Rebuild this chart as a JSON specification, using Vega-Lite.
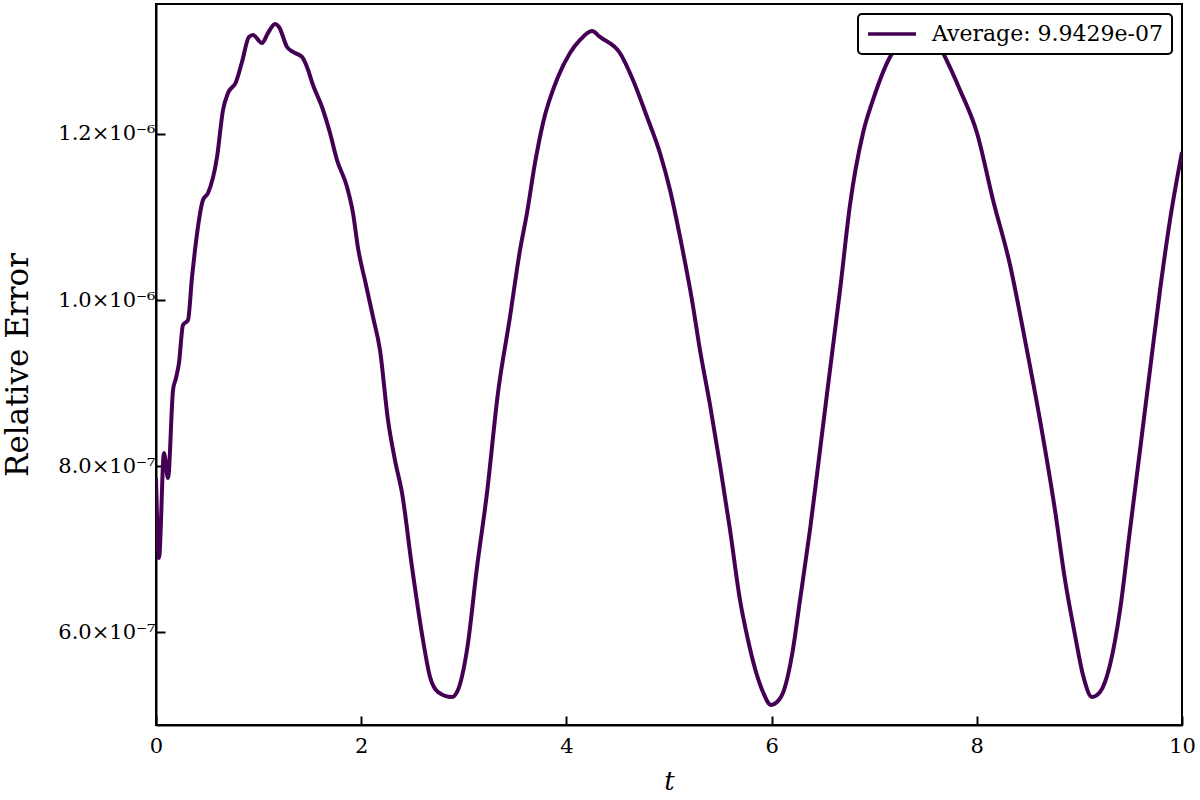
{
  "$schema": "https://vega.github.io/schema/vega-lite/v6.json",
  "width": 1026,
  "height": 721,
  "autosize": {"type": "none"},
  "padding": {"left": 156, "top": 4, "right": 18, "bottom": 75},
  "background": "white",
  "config": {
    "view": {"stroke": "black", "strokeWidth": 2},
    "font": "DejaVu Serif"
  },
  "data": {
    "values": [
      {"t": 0.000, "err": 7.855e-7, "series": "Average: 9.9429e-07"},
      {"t": 0.029, "err": 6.892e-7, "series": "Average: 9.9429e-07"},
      {"t": 0.078, "err": 8.157e-7, "series": "Average: 9.9429e-07"},
      {"t": 0.117, "err": 7.855e-7, "series": "Average: 9.9429e-07"},
      {"t": 0.166, "err": 8.916e-7, "series": "Average: 9.9429e-07"},
      {"t": 0.195, "err": 9.060e-7, "series": "Average: 9.9429e-07"},
      {"t": 0.224, "err": 9.241e-7, "series": "Average: 9.9429e-07"},
      {"t": 0.263, "err": 9.699e-7, "series": "Average: 9.9429e-07"},
      {"t": 0.312, "err": 9.759e-7, "series": "Average: 9.9429e-07"},
      {"t": 0.351, "err": 1.0277e-6, "series": "Average: 9.9429e-07"},
      {"t": 0.380, "err": 1.0602e-6, "series": "Average: 9.9429e-07"},
      {"t": 0.458, "err": 1.1205e-6, "series": "Average: 9.9429e-07"},
      {"t": 0.507, "err": 1.1289e-6, "series": "Average: 9.9429e-07"},
      {"t": 0.595, "err": 1.1723e-6, "series": "Average: 9.9429e-07"},
      {"t": 0.653, "err": 1.2289e-6, "series": "Average: 9.9429e-07"},
      {"t": 0.702, "err": 1.2494e-6, "series": "Average: 9.9429e-07"},
      {"t": 0.780, "err": 1.2627e-6, "series": "Average: 9.9429e-07"},
      {"t": 0.838, "err": 1.2867e-6, "series": "Average: 9.9429e-07"},
      {"t": 0.906, "err": 1.3169e-6, "series": "Average: 9.9429e-07"},
      {"t": 0.945, "err": 1.3193e-6, "series": "Average: 9.9429e-07"},
      {"t": 1.033, "err": 1.3096e-6, "series": "Average: 9.9429e-07"},
      {"t": 1.092, "err": 1.3217e-6, "series": "Average: 9.9429e-07"},
      {"t": 1.160, "err": 1.3325e-6, "series": "Average: 9.9429e-07"},
      {"t": 1.199, "err": 1.3289e-6, "series": "Average: 9.9429e-07"},
      {"t": 1.277, "err": 1.3048e-6, "series": "Average: 9.9429e-07"},
      {"t": 1.335, "err": 1.2988e-6, "series": "Average: 9.9429e-07"},
      {"t": 1.423, "err": 1.2928e-6, "series": "Average: 9.9429e-07"},
      {"t": 1.472, "err": 1.2807e-6, "series": "Average: 9.9429e-07"},
      {"t": 1.530, "err": 1.2590e-6, "series": "Average: 9.9429e-07"},
      {"t": 1.618, "err": 1.2325e-6, "series": "Average: 9.9429e-07"},
      {"t": 1.696, "err": 1.2012e-6, "series": "Average: 9.9429e-07"},
      {"t": 1.764, "err": 1.1687e-6, "series": "Average: 9.9429e-07"},
      {"t": 1.862, "err": 1.1361e-6, "series": "Average: 9.9429e-07"},
      {"t": 1.920, "err": 1.1048e-6, "series": "Average: 9.9429e-07"},
      {"t": 1.969, "err": 1.0627e-6, "series": "Average: 9.9429e-07"},
      {"t": 2.047, "err": 1.0181e-6, "series": "Average: 9.9429e-07"},
      {"t": 2.115, "err": 9.795e-7, "series": "Average: 9.9429e-07"},
      {"t": 2.183, "err": 9.398e-7, "series": "Average: 9.9429e-07"},
      {"t": 2.261, "err": 8.554e-7, "series": "Average: 9.9429e-07"},
      {"t": 2.329, "err": 8.072e-7, "series": "Average: 9.9429e-07"},
      {"t": 2.398, "err": 7.675e-7, "series": "Average: 9.9429e-07"},
      {"t": 2.495, "err": 6.783e-7, "series": "Average: 9.9429e-07"},
      {"t": 2.602, "err": 5.904e-7, "series": "Average: 9.9429e-07"},
      {"t": 2.671, "err": 5.458e-7, "series": "Average: 9.9429e-07"},
      {"t": 2.749, "err": 5.277e-7, "series": "Average: 9.9429e-07"},
      {"t": 2.885, "err": 5.217e-7, "series": "Average: 9.9429e-07"},
      {"t": 2.943, "err": 5.301e-7, "series": "Average: 9.9429e-07"},
      {"t": 3.031, "err": 5.783e-7, "series": "Average: 9.9429e-07"},
      {"t": 3.129, "err": 6.783e-7, "series": "Average: 9.9429e-07"},
      {"t": 3.226, "err": 7.675e-7, "series": "Average: 9.9429e-07"},
      {"t": 3.333, "err": 8.880e-7, "series": "Average: 9.9429e-07"},
      {"t": 3.450, "err": 9.795e-7, "series": "Average: 9.9429e-07"},
      {"t": 3.548, "err": 1.0602e-6, "series": "Average: 9.9429e-07"},
      {"t": 3.616, "err": 1.1048e-6, "series": "Average: 9.9429e-07"},
      {"t": 3.694, "err": 1.1651e-6, "series": "Average: 9.9429e-07"},
      {"t": 3.772, "err": 1.2133e-6, "series": "Average: 9.9429e-07"},
      {"t": 3.918, "err": 1.2687e-6, "series": "Average: 9.9429e-07"},
      {"t": 4.035, "err": 1.2976e-6, "series": "Average: 9.9429e-07"},
      {"t": 4.133, "err": 1.3133e-6, "series": "Average: 9.9429e-07"},
      {"t": 4.250, "err": 1.3241e-6, "series": "Average: 9.9429e-07"},
      {"t": 4.327, "err": 1.3169e-6, "series": "Average: 9.9429e-07"},
      {"t": 4.522, "err": 1.2976e-6, "series": "Average: 9.9429e-07"},
      {"t": 4.649, "err": 1.2651e-6, "series": "Average: 9.9429e-07"},
      {"t": 4.786, "err": 1.2205e-6, "series": "Average: 9.9429e-07"},
      {"t": 4.912, "err": 1.1771e-6, "series": "Average: 9.9429e-07"},
      {"t": 5.010, "err": 1.1325e-6, "series": "Average: 9.9429e-07"},
      {"t": 5.127, "err": 1.0639e-6, "series": "Average: 9.9429e-07"},
      {"t": 5.224, "err": 1.0000e-6, "series": "Average: 9.9429e-07"},
      {"t": 5.302, "err": 9.398e-7, "series": "Average: 9.9429e-07"},
      {"t": 5.400, "err": 8.735e-7, "series": "Average: 9.9429e-07"},
      {"t": 5.497, "err": 8.012e-7, "series": "Average: 9.9429e-07"},
      {"t": 5.595, "err": 7.229e-7, "series": "Average: 9.9429e-07"},
      {"t": 5.692, "err": 6.386e-7, "series": "Average: 9.9429e-07"},
      {"t": 5.770, "err": 5.904e-7, "series": "Average: 9.9429e-07"},
      {"t": 5.848, "err": 5.518e-7, "series": "Average: 9.9429e-07"},
      {"t": 5.916, "err": 5.277e-7, "series": "Average: 9.9429e-07"},
      {"t": 5.994, "err": 5.121e-7, "series": "Average: 9.9429e-07"},
      {"t": 6.053, "err": 5.157e-7, "series": "Average: 9.9429e-07"},
      {"t": 6.121, "err": 5.301e-7, "series": "Average: 9.9429e-07"},
      {"t": 6.199, "err": 5.723e-7, "series": "Average: 9.9429e-07"},
      {"t": 6.277, "err": 6.386e-7, "series": "Average: 9.9429e-07"},
      {"t": 6.374, "err": 7.229e-7, "series": "Average: 9.9429e-07"},
      {"t": 6.472, "err": 8.193e-7, "series": "Average: 9.9429e-07"},
      {"t": 6.569, "err": 9.157e-7, "series": "Average: 9.9429e-07"},
      {"t": 6.667, "err": 1.0120e-6, "series": "Average: 9.9429e-07"},
      {"t": 6.764, "err": 1.1145e-6, "series": "Average: 9.9429e-07"},
      {"t": 6.891, "err": 1.2012e-6, "series": "Average: 9.9429e-07"},
      {"t": 6.988, "err": 1.2410e-6, "series": "Average: 9.9429e-07"},
      {"t": 7.154, "err": 1.2928e-6, "series": "Average: 9.9429e-07"},
      {"t": 7.300, "err": 1.3157e-6, "series": "Average: 9.9429e-07"},
      {"t": 7.446, "err": 1.3253e-6, "series": "Average: 9.9429e-07"},
      {"t": 7.593, "err": 1.3157e-6, "series": "Average: 9.9429e-07"},
      {"t": 7.690, "err": 1.2928e-6, "series": "Average: 9.9429e-07"},
      {"t": 7.836, "err": 1.2530e-6, "series": "Average: 9.9429e-07"},
      {"t": 8.002, "err": 1.2012e-6, "series": "Average: 9.9429e-07"},
      {"t": 8.158, "err": 1.1205e-6, "series": "Average: 9.9429e-07"},
      {"t": 8.324, "err": 1.0422e-6, "series": "Average: 9.9429e-07"},
      {"t": 8.470, "err": 9.518e-7, "series": "Average: 9.9429e-07"},
      {"t": 8.616, "err": 8.554e-7, "series": "Average: 9.9429e-07"},
      {"t": 8.762, "err": 7.470e-7, "series": "Average: 9.9429e-07"},
      {"t": 8.860, "err": 6.627e-7, "series": "Average: 9.9429e-07"},
      {"t": 8.957, "err": 5.964e-7, "series": "Average: 9.9429e-07"},
      {"t": 9.035, "err": 5.482e-7, "series": "Average: 9.9429e-07"},
      {"t": 9.123, "err": 5.217e-7, "series": "Average: 9.9429e-07"},
      {"t": 9.201, "err": 5.277e-7, "series": "Average: 9.9429e-07"},
      {"t": 9.298, "err": 5.603e-7, "series": "Average: 9.9429e-07"},
      {"t": 9.396, "err": 6.265e-7, "series": "Average: 9.9429e-07"},
      {"t": 9.493, "err": 7.229e-7, "series": "Average: 9.9429e-07"},
      {"t": 9.591, "err": 8.193e-7, "series": "Average: 9.9429e-07"},
      {"t": 9.688, "err": 9.157e-7, "series": "Average: 9.9429e-07"},
      {"t": 9.786, "err": 1.0120e-6, "series": "Average: 9.9429e-07"},
      {"t": 9.883, "err": 1.0964e-6, "series": "Average: 9.9429e-07"},
      {"t": 10.000, "err": 1.1783e-6, "series": "Average: 9.9429e-07"}
    ]
  },
  "mark": {"type": "line", "strokeWidth": 4, "interpolate": "monotone", "clip": true},
  "encoding": {
    "x": {
      "field": "t",
      "type": "quantitative",
      "scale": {"domain": [0, 10], "nice": false, "zero": false},
      "axis": {
        "title": "t",
        "titleFont": "DejaVu Serif",
        "titleFontStyle": "italic",
        "titleFontWeight": "normal",
        "titleFontSize": 26,
        "titleColor": "black",
        "titlePadding": 12,
        "values": [0, 2, 4, 6, 8, 10],
        "format": "d",
        "labelFont": "DejaVu Serif",
        "labelFontSize": 21,
        "labelColor": "black",
        "labelPadding": 19,
        "labelFlush": false,
        "tickSize": -9,
        "tickWidth": 2,
        "tickColor": "black",
        "domainColor": "black",
        "domainWidth": 2,
        "grid": false
      }
    },
    "y": {
      "field": "err",
      "type": "quantitative",
      "scale": {"domain": [4.88e-7, 1.3566e-6], "nice": false, "zero": false},
      "axis": {
        "title": "Relative Error",
        "titleFont": "DejaVu Serif",
        "titleFontWeight": "normal",
        "titleFontSize": 31,
        "titleColor": "black",
        "titlePadding": 23,
        "values": [6e-7, 8e-7, 1e-6, 1.2e-6],
        "labelExpr": "datum.value > 9.9e-7 ? format(datum.value * 1e6, '.1f') + '×10⁻⁶' : format(datum.value * 1e7, '.1f') + '×10⁻⁷'",
        "labelFont": "DejaVu Serif",
        "labelFontSize": 21,
        "labelColor": "black",
        "labelPadding": 10,
        "tickSize": -9,
        "tickWidth": 2,
        "tickColor": "black",
        "domainColor": "black",
        "domainWidth": 2,
        "grid": false
      }
    },
    "color": {
      "field": "series",
      "type": "nominal",
      "scale": {"range": ["#440154"]},
      "legend": {
        "title": null,
        "orient": "none",
        "legendX": 702,
        "legendY": 10,
        "fillColor": "white",
        "strokeColor": "black",
        "cornerRadius": 4,
        "padding": 8,
        "clipHeight": 24,
        "symbolType": "stroke",
        "symbolSize": 2304,
        "symbolStrokeWidth": 3.5,
        "labelFont": "DejaVu Serif",
        "labelFontSize": 22,
        "labelColor": "black",
        "labelLimit": 400,
        "labelOffset": 14,
        "encode": {"legend": {"update": {"strokeWidth": {"value": 2}}}}
      }
    }
  }
}
